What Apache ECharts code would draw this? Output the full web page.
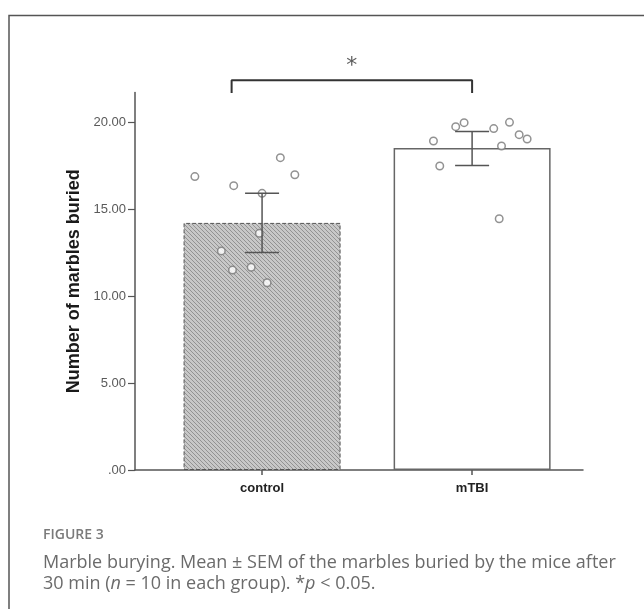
<!DOCTYPE html>
<html>
<head>
<meta charset="utf-8">
<script src="https://cdn.jsdelivr.net/npm/echarts@6/dist/echarts.min.js"></script>
<style>
  html, body { margin: 0; padding: 0; background: #fff; }
  #main { width: 644px; height: 609px; }
</style>
</head>
<body>
<div id="main"></div>
<script>
// groups and means
var categories = ['control', 'mTBI']
var means = [14.2, 18.5]
var semLow = [12.5, 17.5]
var semHigh = [15.9, 19.45]
// individual animals (value, horizontal jitter in group units)
var controlValues = [16.86, 16.34, 17.95, 16.97, 15.9, 13.6, 12.59, 11.49, 11.65, 10.76]
var controlJitter = [-0.32, -0.135, 0.087, 0.156, 0, -0.013, -0.194, -0.141, -0.052, 0.024]
var mtbiValues = [19.73, 19.96, 19.62, 19.98, 19.27, 19.02, 18.91, 18.62, 17.47, 14.44]
var mtbiJitter = [-0.078, -0.038, 0.103, 0.178, 0.224, 0.262, -0.184, 0.14, -0.154, 0.129]
var yTicks = [0, 5, 10, 15, 20]
// significance bracket
var bracketX = [0.855, 2]
var bracketY = [21.67, 22.4]

// hatch pattern for the control bar
function hatch() {
  var c = document.createElement('canvas')
  c.width = 4
  c.height = 4
  var ctx = c.getContext('2d')
  ctx.fillStyle = '#c8c8c8'
  ctx.fillRect(0, 0, 4, 4)
  ctx.strokeStyle = '#939393'
  ctx.lineWidth = 1
  ctx.beginPath()
  ctx.moveTo(-1, -1); ctx.lineTo(5, 5)
  ctx.moveTo(-1, 3); ctx.lineTo(1, 5)
  ctx.moveTo(3, -1); ctx.lineTo(5, 1)
  ctx.stroke()
  return c
}

var chart = echarts.init(document.getElementById('main'))

var dots = []
controlValues.forEach(function (v, i) { dots.push([1 + controlJitter[i], v]) })
mtbiValues.forEach(function (v, i) { dots.push([2 + mtbiJitter[i], v]) })

var font = 'Liberation Sans, Arial, sans-serif'
var capFont = 'Open Sans, Noto Sans, sans-serif'

var option = {
  animation: false,
  backgroundColor: '#fff',
  title: [
    {
      text: 'FIGURE 3',
      left: 38, top: 523,
      textStyle: { fontFamily: capFont, fontSize: 14, fontWeight: 600, color: '#7a7a7a' }
    },
    {
      text: '{t|Marble burying. Mean ± SEM of the marbles buried by the mice after}\n' +
        '{t|30 min (}{i|n}{t| = 10 in each group). *}{i|p}{t| < 0.05.}',
      left: 38, top: 547,
      textStyle: {
        fontWeight: 'normal',
        rich: {
          t: { fontFamily: capFont, fontSize: 18, fontWeight: 'normal', color: '#6b6b6b', lineHeight: 21 },
          i: { fontFamily: capFont, fontSize: 18, fontWeight: 'normal', color: '#6b6b6b', fontStyle: 'italic', lineHeight: 21 }
        }
      }
    }
  ],
  graphic: [
    {
      type: 'polyline',
      shape: { points: [[9, 609], [9, 15.5], [644, 15.5]] },
      style: { stroke: '#555', lineWidth: 1.5, fill: null }
    }
  ],
  grid: { left: 135, right: 61, top: 92.4, bottom: 139 },
  xAxis: {
    type: 'value',
    min: 0.395,
    max: 2.528,
    splitLine: { show: false },
    axisLine: { lineStyle: { color: '#555', width: 1.5 } },
    axisTick: { customValues: [1, 2], length: 5, lineStyle: { color: '#555', width: 1.5 } },
    axisLabel: {
      customValues: [1, 2],
      formatter: function (v) { return categories[Math.round(v) - 1] },
      margin: 12,
      fontFamily: font, fontSize: 13, fontWeight: 'bold', color: '#222'
    }
  },
  yAxis: {
    type: 'value',
    min: 0,
    max: 21.7,
    name: 'Number of marbles buried',
    nameLocation: 'middle',
    nameGap: 50,
    nameTextStyle: { fontFamily: font, fontSize: 18, fontWeight: 'bold', color: '#1a1a1a' },
    splitLine: { show: false },
    axisLine: { show: true, lineStyle: { color: '#555', width: 1.5 } },
    axisTick: { customValues: yTicks, length: 7, lineStyle: { color: '#555', width: 1.2 } },
    axisLabel: {
      customValues: yTicks,
      formatter: function (v) { return v === 0 ? '.00' : v.toFixed(2) },
      margin: 9,
      fontFamily: font, fontSize: 13, color: '#5a5a5a'
    }
  },
  series: [
    {
      type: 'bar',
      barWidth: 157,
      data: [
        {
          value: [1, means[0]],
          itemStyle: { color: { image: hatch(), repeat: 'repeat' }, borderColor: '#555', borderWidth: 1, borderType: 'dashed' }
        },
        {
          value: [2, means[1]],
          itemStyle: { color: '#fff', borderColor: '#666', borderWidth: 1.5 }
        }
      ]
    },
    {
      type: 'scatter',
      symbol: 'circle',
      symbolSize: 7.5,
      itemStyle: { color: '#fff', borderColor: '#777', borderWidth: 1.5 },
      data: dots,
      z: 3
    },
    {
      type: 'custom',
      z: 4,
      data: [[1, semLow[0], semHigh[0]], [2, semLow[1], semHigh[1]]],
      renderItem: function (params, api) {
        var lo = api.coord([api.value(0), api.value(1)])
        var hi = api.coord([api.value(0), api.value(2)])
        var hw = 17
        var st = { stroke: '#555', lineWidth: 1.5 }
        return {
          type: 'group',
          children: [
            { type: 'line', shape: { x1: lo[0], y1: lo[1], x2: hi[0], y2: hi[1] }, style: st },
            { type: 'line', shape: { x1: lo[0] - hw, y1: lo[1], x2: lo[0] + hw, y2: lo[1] }, style: st },
            { type: 'line', shape: { x1: hi[0] - hw, y1: hi[1], x2: hi[0] + hw, y2: hi[1] }, style: st }
          ]
        }
      }
    },
    {
      type: 'line',
      clip: false,
      symbol: 'none',
      lineStyle: { color: '#333', width: 2 },
      data: [
        [bracketX[0], bracketY[0]], [bracketX[0], bracketY[1]],
        [bracketX[1], bracketY[1]], [bracketX[1], bracketY[0]]
      ]
    },
    {
      type: 'scatter',
      clip: false,
      symbolSize: 0,
      silent: true,
      label: {
        show: true, position: 'inside', formatter: '*',
        fontFamily: 'DejaVu Sans, sans-serif', fontSize: 22, color: '#333'
      },
      data: [[(bracketX[0] + bracketX[1]) / 2, 23.2]]
    }
  ]
}

chart.setOption(option)
</script>
</body>
</html>
